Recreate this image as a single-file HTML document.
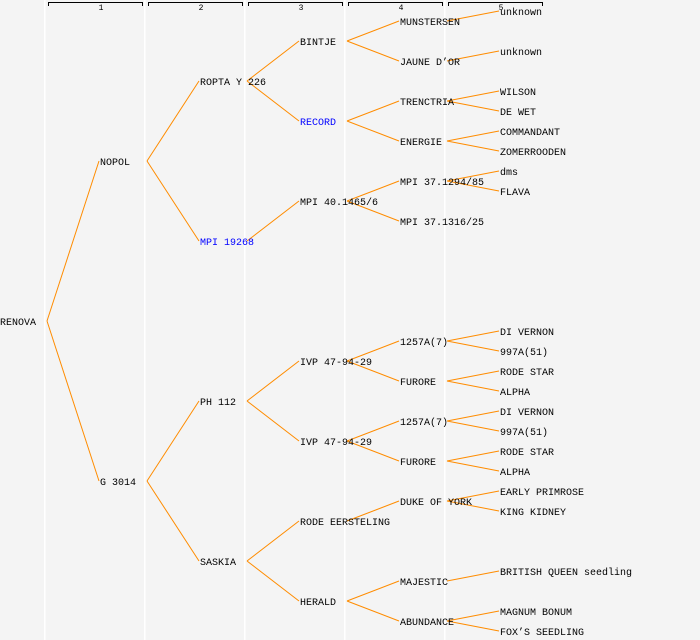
<!DOCTYPE html>
<html><head><meta charset="utf-8"><style>
html,body{margin:0;padding:0;background:#f4f4f4}
svg{display:block}
text{font-family:"Liberation Mono",monospace;font-size:10px;fill:#000}
</style></head><body>
<svg width="700" height="640" xmlns="http://www.w3.org/2000/svg">
<rect width="700" height="640" fill="#f4f4f4"/>
<g fill="#fff">
<rect x="44" y="0" width="1.5" height="640"/><rect x="144" y="0" width="1.5" height="640"/>
<rect x="244" y="0" width="1.5" height="640"/><rect x="344" y="0" width="1.5" height="640"/>
<rect x="444" y="0" width="1.5" height="640"/>
</g>
<g stroke="#000" fill="none" stroke-width="1">
<path d="M48.5 6V2.5H142.5V6"/><path d="M148.5 6V2.5H242.5V6"/><path d="M248.5 6V2.5H342.5V6"/>
<path d="M348.5 6V2.5H442.5V6"/><path d="M448.5 6V2.5H542.5V6"/>
</g>
<g style="font-size:8px" text-anchor="middle">
<text x="101" y="10" style="font-size:8px">1</text><text x="201" y="10" style="font-size:8px">2</text>
<text x="301" y="10" style="font-size:8px">3</text><text x="401" y="10" style="font-size:8px">4</text>
<text x="501" y="10" style="font-size:8px">5</text>
</g>
<g stroke="#ff8c00" stroke-width="1" fill="none">
<path d="M47 321L99 161M47 321L99 481"/>
<path d="M147 161L199 81M147 161L199 241M147 481L199 401M147 481L199 561"/>
<path d="M247 81L299 41M247 81L299 121M247 241L299 201M247 401L299 361M247 401L299 441M247 561L299 521M247 561L299 601"/>
<path d="M347 41L399 21M347 41L399 61M347 121L399 101M347 121L399 141M347 201L399 181M347 201L399 221M347 361L399 341M347 361L399 381M347 441L399 421M347 441L399 461M347 521L399 501M347 601L399 581M347 601L399 621"/>
<path d="M447 21L499 11M447 61L499 51M447 101L499 91M447 101L499 111M447 141L499 131M447 141L499 151M447 181L499 171M447 181L499 191M447 341L499 331M447 341L499 351M447 381L499 371M447 381L499 391M447 421L499 411M447 421L499 431M447 461L499 451M447 461L499 471M447 501L499 491M447 501L499 511M447 581L499 571M447 621L499 611M447 621L499 631"/>
</g>
<g>
<text x="0" y="325">RENOVA</text>
<text x="100" y="165">NOPOL</text><text x="100" y="485">G 3014</text>
<text x="200" y="85">ROPTA Y 226</text><text x="200" y="245" style="fill:#0000ff">MPI 19268</text>
<text x="200" y="405">PH 112</text><text x="200" y="565">SASKIA</text>
<text x="300" y="45">BINTJE</text><text x="300" y="125" style="fill:#0000ff">RECORD</text>
<text x="300" y="205">MPI 40.1465/6</text><text x="300" y="365">IVP 47-94-29</text>
<text x="300" y="445">IVP 47-94-29</text><text x="300" y="525">RODE EERSTELING</text>
<text x="300" y="605">HERALD</text>
<text x="400" y="25">MUNSTERSEN</text><text x="400" y="65">JAUNE D’OR</text>
<text x="400" y="105">TRENCTRIA</text><text x="400" y="145">ENERGIE</text>
<text x="400" y="185">MPI 37.1294/85</text><text x="400" y="225">MPI 37.1316/25</text>
<text x="400" y="345">1257A(7)</text><text x="400" y="385">FURORE</text>
<text x="400" y="425">1257A(7)</text><text x="400" y="465">FURORE</text>
<text x="400" y="505">DUKE OF YORK</text><text x="400" y="585">MAJESTIC</text>
<text x="400" y="625">ABUNDANCE</text>
<text x="500" y="15">unknown</text><text x="500" y="55">unknown</text>
<text x="500" y="95">WILSON</text><text x="500" y="115">DE WET</text>
<text x="500" y="135">COMMANDANT</text><text x="500" y="155">ZOMERROODEN</text>
<text x="500" y="175">dms</text><text x="500" y="195">FLAVA</text>
<text x="500" y="335">DI VERNON</text><text x="500" y="355">997A(51)</text>
<text x="500" y="375">RODE STAR</text><text x="500" y="395">ALPHA</text>
<text x="500" y="415">DI VERNON</text><text x="500" y="435">997A(51)</text>
<text x="500" y="455">RODE STAR</text><text x="500" y="475">ALPHA</text>
<text x="500" y="495">EARLY PRIMROSE</text><text x="500" y="515">KING KIDNEY</text>
<text x="500" y="575">BRITISH QUEEN seedling</text>
<text x="500" y="615">MAGNUM BONUM</text><text x="500" y="635">FOX’S SEEDLING</text>
</g>
</svg>
</body></html>
